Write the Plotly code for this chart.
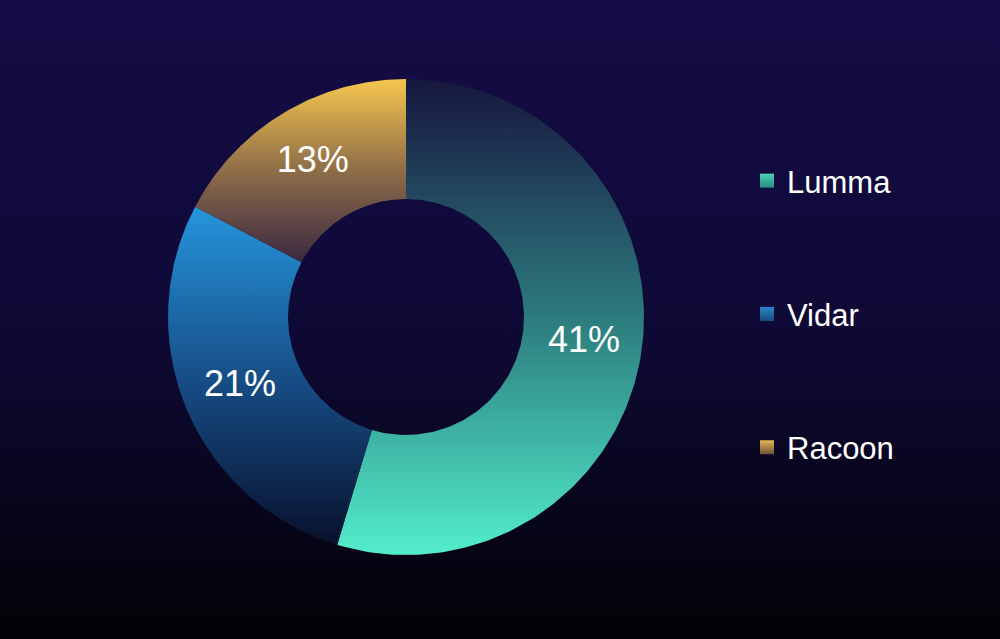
import numpy as np
import plotly.graph_objects as go

# share of each stealer family (labels show the raw value)
labels = ["Lumma", "Vidar", "Racoon"]
values = [41, 21, 13]

# gradient stops per slice, bottom -> top
slice_scales = {
    "Lumma": [[0, "#52edcb"], [0.45, "#2f8684"], [0.75, "#23485f"], [1, "#17173f"]],
    "Vidar": [[0, "#08102c"], [0.5, "#174f88"], [1, "#2596dc"]],
    "Racoon": [[0, "#3a2842"], [0.5, "#8e6d48"], [1, "#f5c64e"]],
}
legend_top = {"Lumma": "#48d4b4", "Vidar": "#2a86c8", "Racoon": "#e6b652"}
legend_bottom = {"Lumma": "#2a8a80", "Vidar": "#1a4a80", "Racoon": "#6a5238"}

W, H = 1000, 639
CX, CY = 406, H - 317
R_OUT, R_IN = 238, 118
FONT = "Liberation Sans, Arial, sans-serif"

fig = go.Figure()

# page background, dark indigo fading to black
fig.add_trace(go.Scatter(
    x=[0, W, W, 0, 0], y=[0, 0, H, H, 0], mode="lines", line=dict(width=0),
    fill="toself",
    fillgradient=dict(type="vertical", colorscale=[[0, "#030205"], [0.2, "#07051a"], [0.45, "#0e0933"], [0.75, "#120b40"], [1, "#140c44"]]),
    hoverinfo="skip", showlegend=False,
))

total = sum(values)
cum = 0
for lab, v in zip(labels, values):
    a0 = np.pi / 2 - 2 * np.pi * cum / total
    a1 = np.pi / 2 - 2 * np.pi * (cum + v) / total
    t = np.linspace(a0, a1, 200)
    xs = np.concatenate([CX + R_OUT * np.cos(t), CX + R_IN * np.cos(t[::-1]), [CX + R_OUT * np.cos(t[0])]])
    ys = np.concatenate([CY + R_OUT * np.sin(t), CY + R_IN * np.sin(t[::-1]), [CY + R_OUT * np.sin(t[0])]])
    fig.add_trace(go.Scatter(
        x=xs, y=ys, mode="lines", line=dict(width=0), fill="toself",
        fillgradient=dict(type="vertical", colorscale=slice_scales[lab]),
        name=lab, legendgroup=lab, showlegend=False, hoverinfo="name",
    ))
    mid = (a0 + a1) / 2
    rm = (R_OUT + R_IN) / 2 + 2
    fig.add_trace(go.Scatter(
        x=[CX + rm * np.cos(mid)], y=[CY + rm * np.sin(mid)], mode="text",
        text=[f"{v}%"], textfont=dict(size=36, color="white", family=FONT),
        hoverinfo="skip", showlegend=False,
    ))
    # legend entry with a small gradient square
    fig.add_trace(go.Scatter(
        x=[None], y=[None], mode="markers", name=lab, legendgroup=lab,
        marker=dict(symbol="square", size=14, color=legend_top[lab],
                    gradient=dict(type="vertical", color=legend_bottom[lab]), line=dict(width=0)),
    ))
    cum += v

fig.update_layout(
    width=W, height=H,
    margin=dict(l=0, r=0, t=0, b=0),
    paper_bgcolor="#0a0626", plot_bgcolor="rgba(0,0,0,0)",
    xaxis=dict(range=[0, W], visible=False, fixedrange=True),
    yaxis=dict(range=[0, H], visible=False, fixedrange=True),
    showlegend=True,
    legend=dict(x=0.747, y=0.759, xanchor="left", yanchor="top",
                font=dict(size=31, color="white", family=FONT),
                bgcolor="rgba(0,0,0,0)", tracegroupgap=90, itemsizing="trace"),
    hovermode="closest",
)

# drop the default body margin so the chart fills the window
fig.write_html("out.html", config={"displayModeBar": False},
               post_script="document.body.style.margin='0';")
